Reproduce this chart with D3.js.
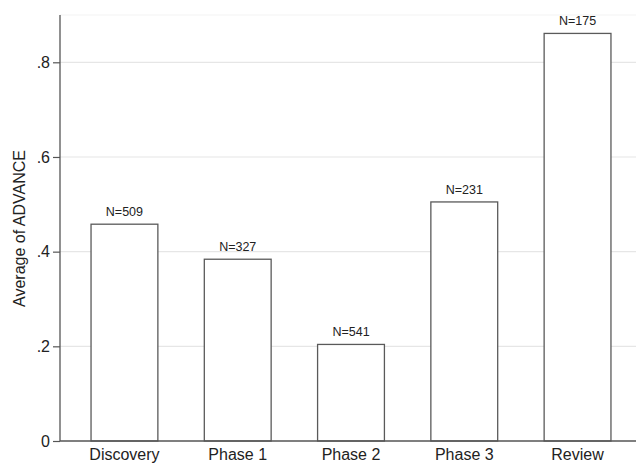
<!DOCTYPE html>
<html><head><meta charset="utf-8">
<script src="https://cdn.jsdelivr.net/npm/d3@7"></script>
<style>body{margin:0;background:#fff;} svg{display:block;font-family:"Liberation Sans",Arial,Helvetica,sans-serif;}</style>
</head><body>
<svg id="c" width="636" height="464"></svg>
<script>
const categories = ["Discovery","Phase 1","Phase 2","Phase 3","Review"];
const values = [0.458, 0.384, 0.204, 0.505, 0.861];
const counts = ["N=509","N=327","N=541","N=231","N=175"];
const yTicks = [0, 0.2, 0.4, 0.6, 0.8];
const yTickLabels = ["0", ".2", ".4", ".6", ".8"];
const yTitle = "Average of ADVANCE";

(function () {
const svg = d3.select("#c");
const pLeft = 60, pRight = 636, pBottom = 441, pTop = 15;
const x = d3.scaleBand().domain(categories).range([60, 642]).paddingInner(0.41).paddingOuter(0.274);
const y = d3.scaleLinear().domain([0, 0.8]).range([441, 62.3]);

// gridlines
svg.append("g").selectAll("line").data(yTicks.filter(d => d > 0)).join("line")
  .attr("x1", pLeft).attr("x2", pRight)
  .attr("y1", d => y(d)).attr("y2", d => y(d))
  .attr("stroke", "#e6e6e6").attr("stroke-width", 1.2);
svg.append("line").attr("x1", pLeft).attr("x2", pRight).attr("y1", pTop).attr("y2", pTop)
  .attr("stroke", "#f3f3f3").attr("stroke-width", 1);

// bars
svg.append("g").selectAll("rect").data(categories).join("rect")
  .attr("x", d => x(d)).attr("width", x.bandwidth())
  .attr("y", (d, i) => y(values[i])).attr("height", (d, i) => y(0) - y(values[i]))
  .attr("fill", "#fff").attr("stroke", "#5a5a5a").attr("stroke-width", 1.3);

// N labels
svg.append("g").selectAll("text").data(categories).join("text")
  .attr("x", d => x(d) + x.bandwidth() / 2)
  .attr("y", (d, i) => y(values[i]) - 8)
  .attr("text-anchor", "middle").attr("font-size", 12.5).attr("fill", "#222")
  .text((d, i) => counts[i]);

// y axis
const yAxis = d3.axisLeft(y).tickValues(yTicks).tickFormat((d, i) => yTickLabels[i]).tickSize(7).tickPadding(3);
const gy = svg.append("g").attr("transform", `translate(${pLeft},0)`).call(yAxis);
gy.select(".domain").remove();
gy.selectAll(".tick line").attr("stroke", "#555").attr("stroke-width", 1.2);
gy.selectAll(".tick text").attr("font-size", 16).attr("fill", "#222").attr("font-family", "Liberation Sans, Arial, sans-serif");
svg.append("line").attr("x1", pLeft).attr("x2", pLeft).attr("y1", pTop).attr("y2", pBottom)
  .attr("stroke", "#555").attr("stroke-width", 1.3);

// x axis
const xAxis = d3.axisBottom(x).tickSize(0).tickPadding(8);
const gx = svg.append("g").attr("transform", `translate(0,${pBottom})`).call(xAxis);
gx.select(".domain").remove();
gx.selectAll(".tick text").attr("font-size", 16).attr("fill", "#222").attr("font-family", "Liberation Sans, Arial, sans-serif");
svg.append("line").attr("x1", pLeft).attr("x2", pRight).attr("y1", pBottom).attr("y2", pBottom)
  .attr("stroke", "#555").attr("stroke-width", 1.3);

// y title
svg.append("text").attr("transform", "translate(25,228.5) rotate(-90)")
  .attr("text-anchor", "middle").attr("font-size", 16).attr("fill", "#222").text(yTitle);
})();
</script>
</body></html>
